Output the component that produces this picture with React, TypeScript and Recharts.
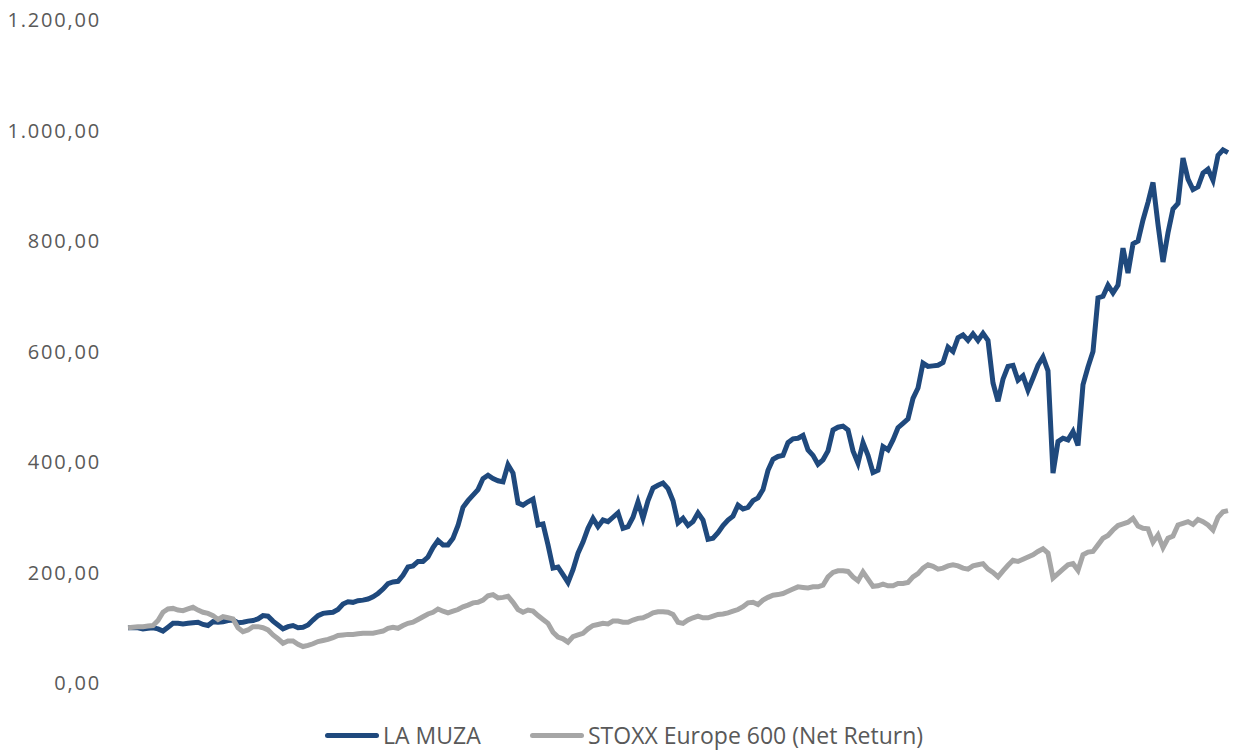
import React from 'react';
import { LineChart, Line, XAxis, YAxis, Legend } from 'recharts';

// LA MUZA, index rebased to 100
const laMuza = [
  100, 100, 100, 98, 99, 100, 98, 94, 101, 108,
  108, 107, 108, 109, 110, 106, 104, 111, 110, 111,
  113, 114, 109, 110, 112, 113, 116, 122, 121, 112,
  105, 98, 102, 104, 100, 101, 105, 114, 122, 126,
  127, 128, 133, 143, 147, 146, 149, 150, 152, 156,
  162, 170, 180, 183, 184, 195, 210, 212, 220, 220,
  228, 245, 258, 250, 250, 262, 285, 318, 330, 340,
  350, 370, 376, 370, 366, 364, 395, 380, 326, 322,
  328, 333, 286, 288, 250, 208, 210, 196, 182, 205,
  235, 255, 280, 298, 283, 295, 292, 300, 308, 280,
  283, 300, 328, 298, 330, 353, 358, 362, 352, 330,
  290, 298, 285, 292, 308, 295, 260, 262, 272, 285,
  295, 302, 322, 315, 318, 330, 335, 350, 385, 405,
  410, 412, 435, 442, 443, 448, 422, 412, 396, 404,
  420, 458, 463, 465, 458, 420, 398, 435, 412, 381,
  385, 428, 422, 440, 462, 470, 478, 515, 534, 579,
  573, 574, 575, 580, 608, 600, 625, 630, 620, 632,
  620, 633, 620, 543, 510, 550, 573, 575, 548, 556,
  530, 552, 575, 590, 565, 380, 437, 443, 440, 455,
  430, 540, 572, 600, 697, 700, 720, 706, 720, 787,
  742, 795, 800, 838, 870, 906, 830, 762, 815, 858,
  868, 950, 912, 893, 898, 923, 930, 910, 955, 965,
  960,
];

// STOXX Europe 600 (Net Return), index rebased to 100
const stoxx600 = [
  100, 101, 102, 102, 103, 104, 113, 128, 134, 135,
  132, 131, 134, 137, 132, 128, 126, 122, 115, 120,
  118, 116, 100, 93, 96, 102, 102, 100, 96, 87,
  80, 72, 76, 76, 70, 66, 68, 71, 75, 77,
  79, 82, 86, 87, 88, 88, 89, 90, 90, 90,
  92, 94, 99, 101, 99, 104, 108, 110, 115, 120,
  125, 128, 134, 130, 127, 130, 133, 138, 141, 145,
  146, 150, 158, 160, 154, 155, 157, 146, 133, 128,
  132, 130, 122, 115, 108, 92, 83, 80, 74, 84,
  87, 90, 98, 104, 106, 108, 107, 112, 112, 110,
  110, 114, 117, 118, 122, 127, 129, 129, 128, 124,
  110, 108, 114, 118, 121, 118, 118, 121, 124, 125,
  127, 130, 133, 138, 145, 146, 142, 150, 155, 159,
  160, 162, 166, 170, 174, 173, 172, 174, 174, 177,
  192, 200, 203, 203, 202, 192, 185, 201, 188, 175,
  176, 179, 176, 176, 180, 180, 182, 192, 198, 208,
  214, 211, 206, 208, 212, 214, 212, 208, 206, 212,
  214, 216, 206, 200, 192, 203, 213, 222, 220, 224,
  228, 232, 238, 243, 235, 190, 198, 206, 214, 216,
  204, 232, 237, 238, 250, 262, 267, 277, 285, 288,
  291, 298, 284, 280, 279, 255, 268, 245, 262, 266,
  286, 289, 292, 287, 296, 292, 286, 277, 300, 310,
  312,
];

const yTicks = [0, 200, 400, 600, 800, 1000, 1200];

const seriesNames = ['LA MUZA', 'STOXX Europe 600 (Net Return)'];
const colors = ['#1F497D', '#A6A6A6'];

const data = laMuza.map((v, i) => ({ period: i, muza: v, stoxx: stoxx600[i] }));

const fmt = (v: number) => {
  const [int, dec] = v.toFixed(2).split('.');
  return int.replace(/\B(?=(\d{3})+(?!\d))/g, '.') + ',' + dec;
};

const FONT = '"Open Sans", sans-serif';

function LegendBox() {
  return (
    <div style={{ height: 60, position: 'relative', fontFamily: FONT, fontSize: 23, color: '#595959' }}>
      {seriesNames.map((name, i) => (
        <div
          key={name}
          style={{
            position: 'absolute',
            top: 38,
            left: i === 0 ? 317 : 522,
            display: 'flex',
            alignItems: 'center',
            whiteSpace: 'nowrap',
            lineHeight: '28px',
          }}
        >
          <span style={{ display: 'inline-block', width: 54, height: 5, borderRadius: 3, background: colors[i], marginRight: 4 }} />
          <span>{name}</span>
        </div>
      ))}
    </div>
  );
}

export default function App() {
  return (
    <div style={{ position: 'absolute', left: 0, top: 0, width: 1234, height: 751, background: '#fff' }}>
      <LineChart width={1234} height={751} data={data} margin={{ top: 20, right: 6, bottom: 8, left: 8 }}>
        <XAxis dataKey="period" hide />
        <YAxis
          width={120}
          domain={[0, 1200]}
          ticks={yTicks}
          tickFormatter={fmt}
          axisLine={false}
          tickLine={false}
          tickSize={0}
          tickMargin={27}
          tick={{ fill: '#595959', fontSize: 20, fontFamily: FONT, letterSpacing: 1.8 }}
        />
        <Legend verticalAlign="bottom" content={() => <LegendBox />} />
        <Line dataKey="muza" name={seriesNames[0]} stroke={colors[0]} strokeWidth={5} dot={false} isAnimationActive={false} />
        <Line dataKey="stoxx" name={seriesNames[1]} stroke={colors[1]} strokeWidth={5} dot={false} isAnimationActive={false} />
      </LineChart>
    </div>
  );
}
